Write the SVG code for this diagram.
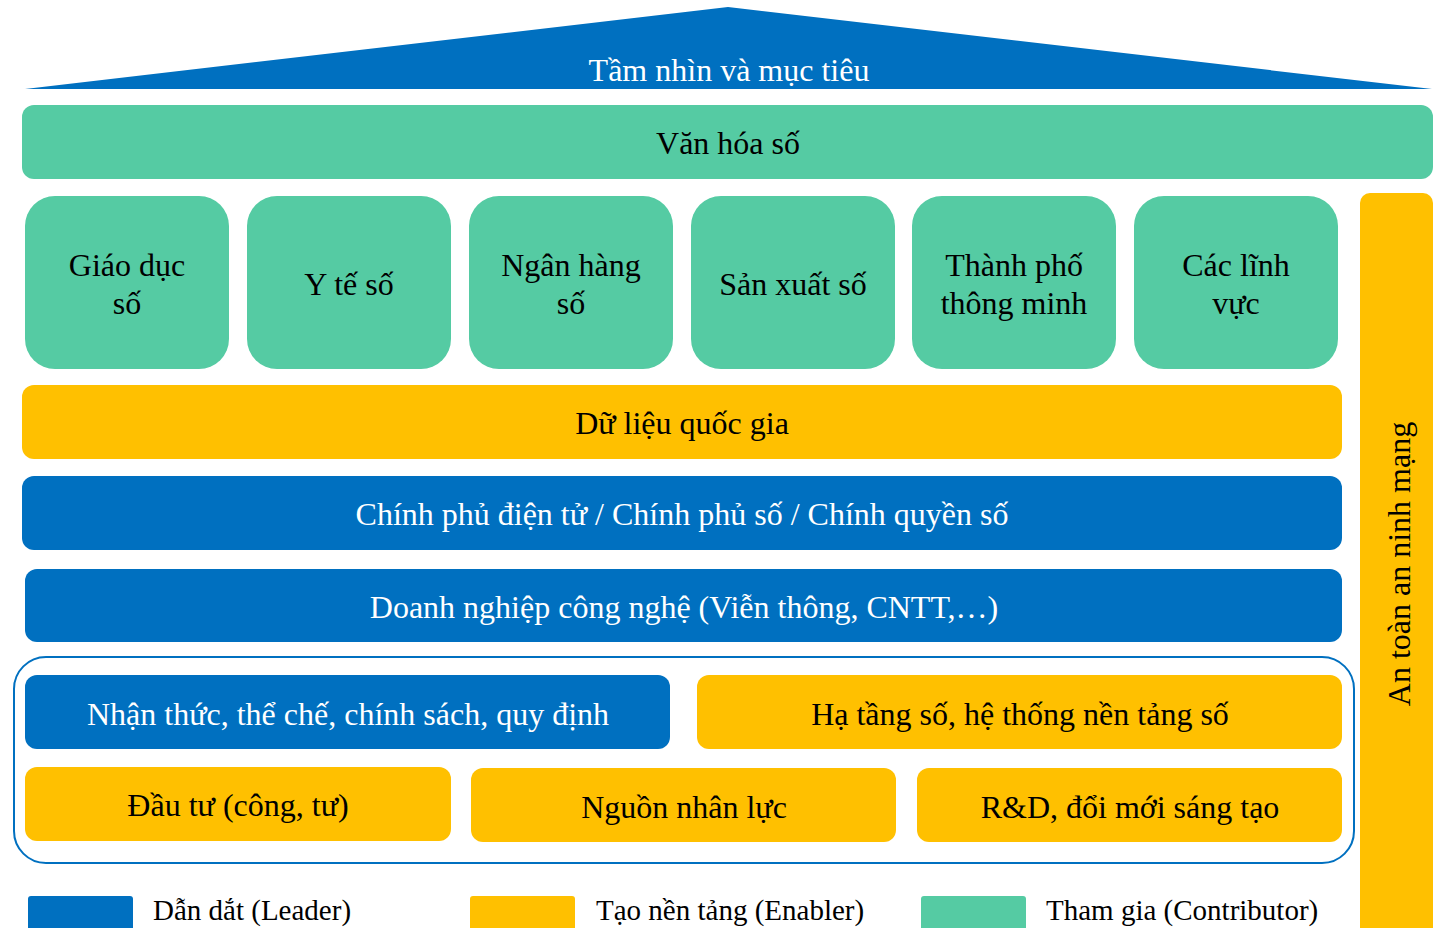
<svg xmlns="http://www.w3.org/2000/svg" width="1452" height="928" viewBox="0 0 1452 928">
<style>
text{font-family:"Liberation Serif","Times New Roman",serif;font-size:32px;text-anchor:middle;fill:#000}
.w{fill:#fff}
.l{text-anchor:start;font-size:29px}
.g{fill:#55CBA3}
.y{fill:#FFC000}
.b{fill:#0070C0}
</style>
<rect width="1452" height="928" fill="#fff"/>
<g id="roof"><polygon class="b" points="25,89 728,7 1432,89"/><text class="w" x="729" y="81">Tầm nhìn và mục tiêu</text></g>
<g id="van-hoa"><rect class="g" x="22" y="105" width="1411" height="74" rx="12"/><text x="728" y="154">Văn hóa số</text></g>
<g id="giao-duc"><rect class="g" x="25" y="196" width="204" height="173" rx="30"/><text x="127" y="276">Giáo dục</text><text x="127" y="314">số</text></g>
<g id="y-te"><rect class="g" x="247" y="196" width="204" height="173" rx="30"/><text x="349" y="295">Y tế số</text></g>
<g id="ngan-hang"><rect class="g" x="469" y="196" width="204" height="173" rx="30"/><text x="571" y="276">Ngân hàng</text><text x="571" y="314">số</text></g>
<g id="san-xuat"><rect class="g" x="691" y="196" width="204" height="173" rx="30"/><text x="793" y="295">Sản xuất số</text></g>
<g id="thanh-pho"><rect class="g" x="912" y="196" width="204" height="173" rx="30"/><text x="1014" y="276">Thành phố</text><text x="1014" y="314">thông minh</text></g>
<g id="cac-linh-vuc"><rect class="g" x="1134" y="196" width="204" height="173" rx="30"/><text x="1236" y="276">Các lĩnh</text><text x="1236" y="314">vực</text></g>
<g id="du-lieu"><rect class="y" x="22" y="385" width="1320" height="74" rx="12"/><text x="682" y="434">Dữ liệu quốc gia</text></g>
<g id="chinh-phu"><rect class="b" x="22" y="476" width="1320" height="74" rx="12"/><text class="w" x="682" y="525">Chính phủ điện tử / Chính phủ số / Chính quyền số</text></g>
<g id="doanh-nghiep"><rect class="b" x="25" y="569" width="1317" height="73" rx="12"/><text class="w" x="684" y="618">Doanh nghiệp công nghệ (Viễn thông, CNTT,…)</text></g>
<g id="nen-tang"><rect x="14" y="657" width="1340" height="206" rx="32" fill="none" stroke="#0070C0" stroke-width="2"/></g>
<g id="nhan-thuc"><rect class="b" x="25" y="675" width="645" height="74" rx="12"/><text class="w" x="348" y="725">Nhận thức, thể chế, chính sách, quy định</text></g>
<g id="ha-tang"><rect class="y" x="697" y="675" width="645" height="74" rx="12"/><text x="1020" y="725">Hạ tầng số, hệ thống nền tảng số</text></g>
<g id="dau-tu"><rect class="y" x="25" y="767" width="426" height="74" rx="12"/><text x="238" y="816">Đầu tư (công, tư)</text></g>
<g id="nguon-nhan-luc"><rect class="y" x="471" y="768" width="425" height="74" rx="12"/><text x="684" y="818">Nguồn nhân lực</text></g>
<g id="rd"><rect class="y" x="917" y="768" width="425" height="74" rx="12"/><text x="1130" y="818">R&amp;D, đổi mới sáng tạo</text></g>
<g id="an-toan"><rect class="y" x="1360" y="193" width="73" height="760" rx="10"/><text transform="translate(1410,564) rotate(-90)">An toàn an ninh mạng</text></g>
<g id="connectors"></g>
<g id="legend">
<rect class="b" x="28" y="896" width="105" height="40" rx="3"/><text class="l" x="153" y="920">Dẫn dắt (Leader)</text>
<rect class="y" x="470" y="896" width="105" height="40" rx="3"/><text class="l" x="596" y="920">Tạo nền tảng (Enabler)</text>
<rect class="g" x="921" y="896" width="105" height="40" rx="3"/><text class="l" x="1046" y="920">Tham gia (Contributor)</text>
</g>
</svg>
